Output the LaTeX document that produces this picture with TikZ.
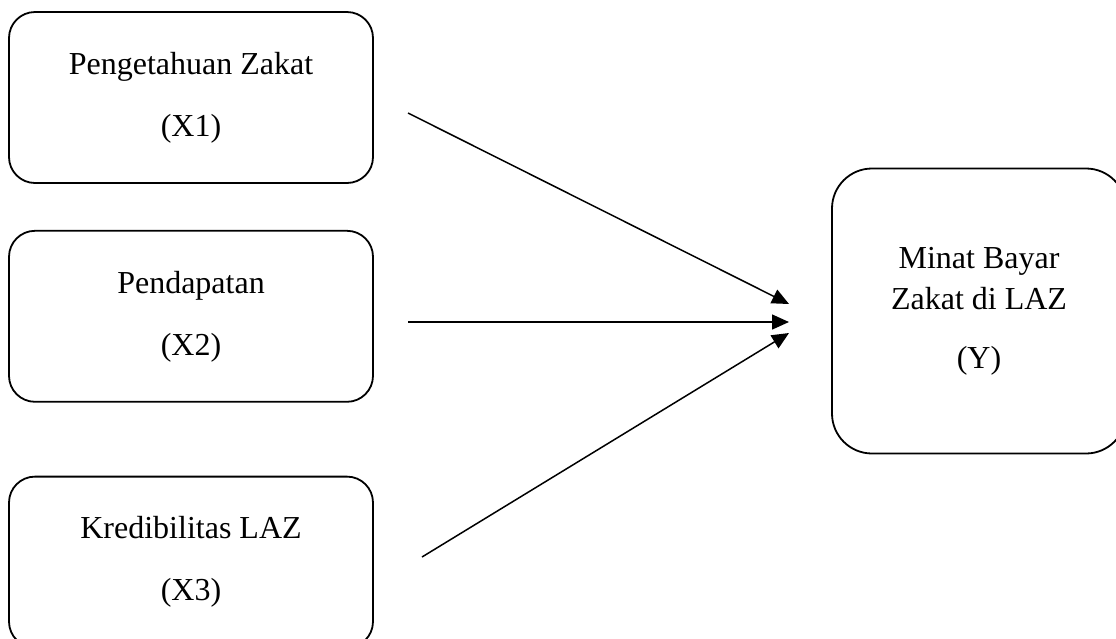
\documentclass[tikz,border=0pt]{standalone}
\usepackage{fontspec}
\setmainfont{Liberation Serif}
\usetikzlibrary{positioning,arrows.meta}

\begin{document}
\begin{tikzpicture}[
  x=1pt, y=-1pt,
  varbox/.style={
    draw,
    line width=1.8pt,
    rounded corners=26pt,
    minimum width=364pt,
    minimum height=171pt,
    inner sep=0pt,
    align=center,
    font=\fontsize{32}{62}\selectfont
  },
  depbox/.style={
    varbox,
    rounded corners=40pt,
    minimum width=294pt,
    minimum height=285pt,
    font=\fontsize{32}{41}\selectfont
  },
  arr/.style={-{Triangle[length=17pt,width=15pt]},line width=1.5pt}
]
\clip (0,0) rectangle (1116,638);

\node[varbox] (x1) at (191,97.5) {Pengetahuan Zakat\\(X1)};
\node[varbox,below=46pt of x1] (x2) {Pendapatan\\(X2)};
\node[varbox,below=73pt of x2] (x3) {Kredibilitas LAZ\\(X3)};
\node[depbox] (y) at (979,311) {Minat Bayar\\Zakat di LAZ\\[18pt](Y)};

% free ends of the arrows
\coordinate (s1) at (408,113);
\coordinate (s2) at (408,322);
\coordinate (s3) at (422,557);
\coordinate (t1) at (789,304);
\coordinate (t2) at (789,322);
\coordinate (t3) at (789,333);

\draw[arr] (s1)--(t1);
\draw[arr] (s2)--(t2);
\draw[arr] (s3)--(t3);

\end{tikzpicture}
\end{document}
